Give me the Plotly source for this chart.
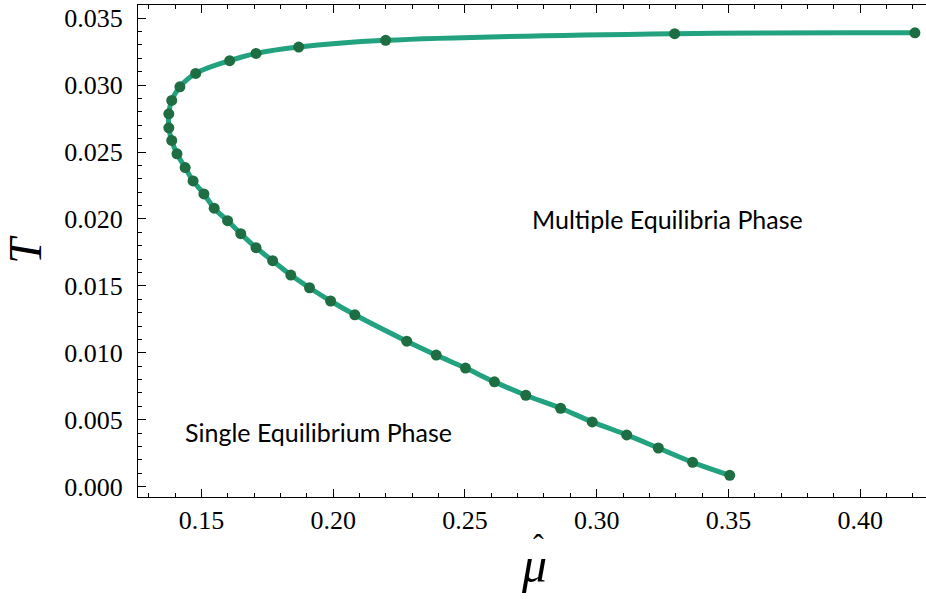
import plotly.graph_objects as go

# Data (ordered along the curve, bottom to top)
mu_hat = [0.3505, 0.3364, 0.3234, 0.3114, 0.2983, 0.2863, 0.2731, 0.2612, 0.2502,
          0.2391, 0.2279, 0.2082, 0.1990, 0.1910, 0.1839, 0.1770, 0.1707, 0.1649,
          0.1599, 0.1548, 0.1509, 0.1468, 0.1438, 0.1407, 0.1387, 0.1376, 0.1376,
          0.1387, 0.1418, 0.1478, 0.1607, 0.1707, 0.1869, 0.2199, 0.3296, 0.4208]
T_vals = [0.00085, 0.00182, 0.00289, 0.00387, 0.00484, 0.00586, 0.00683, 0.00783,
          0.00886, 0.00983, 0.01087, 0.01284, 0.01387, 0.01486, 0.01581, 0.01688,
          0.01785, 0.0189, 0.01987, 0.0208, 0.02187, 0.02284, 0.02384, 0.02486,
          0.02586, 0.02681, 0.02785, 0.02885, 0.02987, 0.03087, 0.03182, 0.03236,
          0.03284, 0.03334, 0.03384, 0.0339]

x_range = [0.1259, 0.4250]
y_range = [-0.00077, 0.03598]

LINE_COLOR = "#22a27f"
POINT_COLOR = "#1f6e43"
SERIF = "Times New Roman, Liberation Serif, DejaVu Serif, serif"

fig = go.Figure()
fig.add_trace(go.Scatter(
    x=mu_hat, y=T_vals, mode="lines",
    line=dict(color=LINE_COLOR, width=5, shape="spline", smoothing=1.0),
    hoverinfo="skip", showlegend=False))
fig.add_trace(go.Scatter(
    x=mu_hat, y=T_vals, mode="markers",
    marker=dict(color=POINT_COLOR, size=11),
    showlegend=False))

tick_font = dict(family=SERIF, size=26, color="black")

fig.update_layout(
    width=926, height=599,
    margin=dict(l=138, r=0, t=5, b=102),
    plot_bgcolor="white", paper_bgcolor="white",
    font=dict(family=SERIF, size=26, color="black"),
    xaxis=dict(
        range=x_range, showgrid=False, zeroline=False,
        showline=True, linecolor="black", linewidth=1.3, mirror="allticks",
        ticks="inside", ticklen=8, tickwidth=1.2, tickcolor="black",
        tick0=0, dtick=0.05, tickformat=".2f", tickfont=tick_font,
        minor=dict(ticks="inside", dtick=0.01, ticklen=4, tickwidth=1, tickcolor="black"),
    ),
    yaxis=dict(
        range=y_range, showgrid=False, zeroline=False,
        showline=True, linecolor="black", linewidth=1.3, mirror=False,
        ticks="inside", ticklen=8, tickwidth=1.2, tickcolor="black",
        tick0=0, dtick=0.005, tickformat=".3f", tickfont=tick_font,
        ticklabelstandoff=9,
        minor=dict(ticks="inside", dtick=0.001, ticklen=4, tickwidth=1, tickcolor="black"),
        title=dict(text="<i>T</i>", font=dict(family=SERIF, size=46, color="black"),
                   standoff=10),
    ),
)

# x-axis title: italic mu with a hat above it (pixel positions converted to paper fractions)
W, H = 926, 599
l, r, t, b = 138, 0, 5, 102
pw, ph = W - l - r, H - t - b

def px(xp):
    return (xp - l) / pw

def py(yp):
    return (H - b - yp) / ph

fig.add_annotation(x=px(534), y=py(565), xref="paper", yref="paper", text="<i>μ</i>",
                   showarrow=False, font=dict(family=SERIF, size=50, color="black"),
                   xanchor="center", yanchor="middle")
fig.add_annotation(x=px(538), y=py(545), xref="paper", yref="paper", text="ˆ",
                   showarrow=False, font=dict(family=SERIF, size=32, color="black"),
                   xanchor="center", yanchor="middle")

ann_font = dict(family="Lato", size=25, color="black")
fig.add_annotation(x=0.2746, y=0.0200, xref="x", yref="y", text="Multiple Equilibria Phase",
                   showarrow=False, font=ann_font, xanchor="left", yanchor="middle")
fig.add_annotation(x=0.1430, y=0.0041, xref="x", yref="y", text="Single Equilibrium Phase",
                   showarrow=False, font=ann_font, xanchor="left", yanchor="middle")

fig.write_html("out.html")
